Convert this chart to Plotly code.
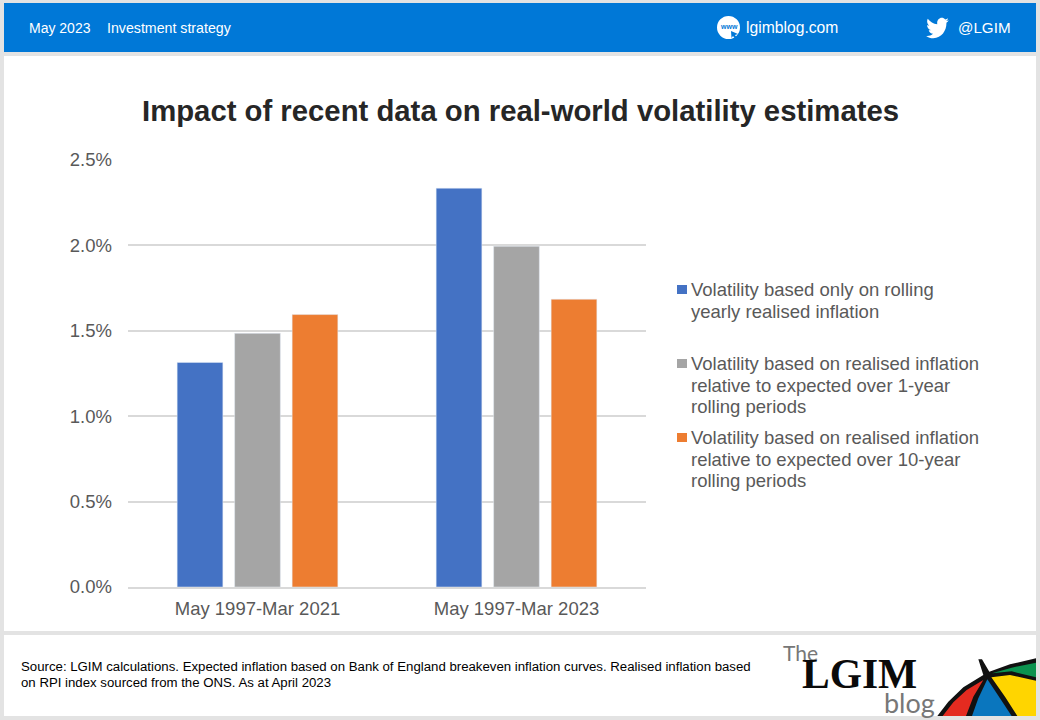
import re
import plotly.graph_objects as go

W, H = 1040, 720
categories = ["May 1997-Mar 2021", "May 1997-Mar 2023"]
series_lines = [
    ["Volatility based only on rolling", "yearly realised inflation"],
    ["Volatility based on realised inflation", "relative to expected over 1-year", "rolling periods"],
    ["Volatility based on realised inflation", "relative to expected over 10-year", "rolling periods"],
]
rolling_yearly = [1.315, 2.335]
rolling_1y = [1.485, 1.995]
rolling_10y = [1.595, 1.685]
colors = ["#4472C4", "#A5A5A5", "#ED7D31"]
legend_first_line = [289.5, 363.5, 437.5]
ticks = [0, 0.5, 1.0, 1.5, 2.0, 2.5]
tick_labels = ["0.0%", "0.5%", "1.0%", "1.5%", "2.0%", "2.5%"]

SANS = "Liberation Sans, Arial, sans-serif"
GREY = "#595959"

def px(x): return x / W
def py(y): return 1 - y / H

fig = go.Figure()
for lines, vals, c in zip(series_lines, [rolling_yearly, rolling_1y, rolling_10y], colors):
    fig.add_trace(go.Bar(name=" ".join(lines), x=categories, y=vals, marker_color=c))

shapes = []
def rect(x0, y0, x1, y1, color):
    shapes.append(dict(type="rect", xref="paper", yref="paper", layer="below",
                       x0=px(x0), x1=px(x1), y0=py(y0), y1=py(y1),
                       fillcolor=color, line_width=0))

def poly(pts, color, lw=0, lc=None):
    d = "M" + "L".join(f"{px(x):.5f},{py(y):.5f}" for x, y in pts) + "Z"
    shapes.append(dict(type="path", xref="paper", yref="paper", layer="below", path=d,
                       fillcolor=color, line=dict(width=lw, color=lc or color)))

rect(0, 0, W, H, "#E3E3E3")
rect(4, 3, 1036, 52, "#0078D7")
rect(4, 56, 1036, 631, "#FFFFFF")
rect(4, 635, 1036, 716, "#FFFFFF")

# www icon
shapes.append(dict(type="circle", xref="paper", yref="paper", layer="below",
                   x0=px(717), x1=px(740), y0=py(16), y1=py(39), fillcolor="#FFFFFF", line_width=0))
poly([(731, 31), (738, 34), (735, 35), (737, 38), (735, 38.5), (733, 36), (731.5, 38)], "#0078D7")

# twitter bird
BIRD = ("M22.46,6C21.69,6.35 20.86,6.58 20,6.69C20.88,6.16 21.56,5.32 21.88,4.31C21.05,4.81 20.13,5.16 19.16,5.36"
        "C18.37,4.5 17.26,4 16,4C13.65,4 11.73,5.92 11.73,8.29C11.73,8.63 11.77,8.96 11.84,9.27C8.28,9.09 5.11,7.38 3,4.79"
        "C2.63,5.42 2.42,6.16 2.42,6.94C2.42,8.43 3.17,9.75 4.33,10.5C3.62,10.5 2.96,10.3 2.38,10C2.38,10 2.38,10 2.38,10.03"
        "C2.38,12.11 3.86,13.85 5.82,14.24C5.46,14.34 5.08,14.39 4.69,14.39C4.42,14.39 4.15,14.36 3.89,14.31"
        "C4.43,16 6,17.26 7.89,17.29C6.43,18.45 4.58,19.13 2.56,19.13C2.22,19.13 1.88,19.11 1.54,19.07"
        "C3.44,20.29 5.70,21 8.12,21C16,21 20.31,14.46 20.31,8.79C20.31,8.6 20.31,8.42 20.3,8.23C21.14,7.63 21.86,6.87 22.46,6Z")
def bird(m):
    x, y = float(m[1]), float(m[2])
    return f"{px(924.5 + x * 1.08):.5f},{py(13 + y * 1.2):.5f}"
shapes.append(dict(type="path", xref="paper", yref="paper", layer="below",
                   path=re.sub(r"([\d.]+),([\d.]+)", bird, BIRD), fillcolor="#FFFFFF", line_width=0))

# umbrella (coordinates in logo pixels)
def L(x, y): return (760 + x / 3, 630 + y / 3)
poly([L(*p) for p in [(532, 258), (565, 215), (610, 172), (670, 135), (655, 88), (666, 88), (688, 125),
                      (750, 103), (828, 85), (828, 258)]], "#111111")
poly([L(*p) for p in [(548, 258), (580, 217), (620, 180), (670, 150), (640, 200), (618, 258)]], "#E42B20")
poly([L(*p) for p in [(636, 258), (655, 205), (682, 148), (720, 205), (755, 258)]], "#0A76BE")
poly([L(*p) for p in [(694, 142), (750, 135), (828, 152), (828, 258), (772, 258), (735, 200)]], "#FFD500")
poly([L(*p) for p in [(696, 130), (755, 113), (828, 98), (828, 142), (755, 124)]], "#0C934F")

annotations = []
def text(x, y, s, size, color, anchor="left", family=SANS):
    annotations.append(dict(xref="paper", yref="paper", x=px(x), y=py(y), text=s, showarrow=False,
                            xanchor=anchor, yanchor="middle", align=anchor, borderpad=0, borderwidth=0,
                            font=dict(size=size, color=color, family=family)))

text(520, 110, "<b>Impact of recent data on real-world volatility estimates</b>", 29.3, "#262626", "center")
text(29, 28, "May 2023", 14, "#FFFFFF")
text(107, 28, "Investment strategy", 14.2, "#FFFFFF")
text(746, 28, "lgimblog.com", 15.7, "#FFFFFF")
text(958, 28, "@LGIM", 15.2, "#FFFFFF")
text(728.5, 27, "<b>www</b>", 7, "#0078D7", "center")
text(21, 666.5, "Source: LGIM calculations. Expected inflation based on Bank of England breakeven inflation curves. Realised inflation based", 13.23, "#000000")
text(21, 682.5, "on RPI index sourced from the ONS. As at April 2023", 13.23, "#000000")
text(783, 652, "The", 21, "#777777", family="Lato, Liberation Sans")
text(802, 674, "<b>LGIM</b>", 41.5, "#0A0A0A", family="Liberation Serif, serif")
text(884, 702, "blog", 27, "#777777", family="Lato, Liberation Sans")

# legend keys and texts
for lines, c, y0 in zip(series_lines, colors, legend_first_line):
    rect(677, y0 - 4.5, 687, y0 + 4.5, c)
    for i, line in enumerate(lines):
        text(691, y0 + i * 21.7, line, 18.5, GREY)

fig.update_layout(
    width=W, height=H, autosize=False,
    margin=dict(l=0, r=0, t=0, b=0, pad=0, autoexpand=False),
    paper_bgcolor="#E3E3E3", plot_bgcolor="rgba(0,0,0,0)",
    barmode="group", bargap=0.334, bargroupgap=0.205,
    shapes=shapes, annotations=annotations,
    font=dict(family=SANS, color=GREY),
    showlegend=False,
    xaxis=dict(domain=[px(128), px(646)], range=[-0.5, 1.5], type="category",
               showline=True, linecolor="#D9D9D9", linewidth=2, ticks="",
               tickfont=dict(size=18.5, color=GREY), showgrid=False, ticklabelstandoff=4),
    yaxis=dict(domain=[py(587), py(160)], range=[0, 2.5], tickvals=ticks, ticktext=tick_labels,
               showgrid=True, gridcolor="#D9D9D9", gridwidth=2, zeroline=False, ticks="",
               tickfont=dict(size=18.5, color=GREY), showline=False, ticklabelstandoff=15),
)
fig.write_html("out.html", config={"displayModeBar": False},
               post_script="document.body.style.margin='0';document.body.style.overflow='hidden';document.body.style.background='#E3E3E3';")
